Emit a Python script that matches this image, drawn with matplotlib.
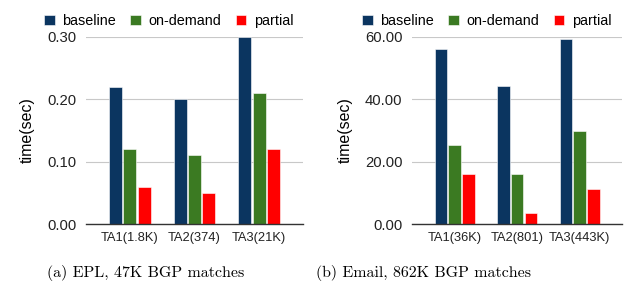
import matplotlib
matplotlib.use('Agg')
import matplotlib.pyplot as plt
import numpy as np

plt.rcParams['font.family'] = ['Liberation Sans', 'DejaVu Sans']

series = ['baseline', 'on-demand', 'partial']
colors = ['#0b3560', '#3b7a22', '#ff0000']

epl_labels = ['TA1(1.8K)', 'TA2(374)', 'TA3(21K)']
epl_baseline = [0.22, 0.20, 0.30]
epl_ondemand = [0.12, 0.11, 0.21]
epl_partial = [0.06, 0.05, 0.12]
epl_ticks = [0.0, 0.10, 0.20, 0.30]

email_labels = ['TA1(36K)', 'TA2(801)', 'TA3(443K)']
email_baseline = [56.0, 44.3, 59.4]
email_ondemand = [25.3, 15.9, 29.9]
email_partial = [16.1, 3.5, 11.3]
email_ticks = [0.0, 20.0, 40.0, 60.0]


def panel(fig, rect, labels, vals, ticks, caption, cap_x, leg_x):
    ax = fig.add_axes(rect)
    x = np.arange(len(labels))
    for i, (name, v, c) in enumerate(zip(series, vals, colors)):
        ax.bar(x + (i - 1) * 0.22, v, 0.2, color=c, edgecolor='white',
               linewidth=0.4, label=name, zorder=3)
    ax.set_xlim(-0.68, 2.68)
    ax.set_ylim(0, ticks[-1])
    ax.set_yticks(ticks)
    ax.set_yticklabels(['%.2f' % t for t in ticks], fontsize=10.7, color='#222222')
    ax.set_xticks(x)
    ax.set_xticklabels(labels, fontsize=9.3, color='#222222')
    ax.tick_params(length=0)
    ax.tick_params(axis='y', pad=7)
    ax.tick_params(axis='x', pad=6)
    ax.grid(axis='y', color='#c8c8c8', linewidth=0.8, zorder=0)
    for s in ['left', 'right', 'top']:
        ax.spines[s].set_visible(False)
    ax.spines['bottom'].set_color('#333333')
    ax.spines['bottom'].set_linewidth(1.0)
    ax.spines['bottom'].set_zorder(4)
    ax.set_ylabel('time(sec)', fontsize=11.5, labelpad=9)
    ax.legend(loc='lower left', bbox_to_anchor=(leg_x, 0.905), bbox_transform=fig.transFigure,
              ncol=3, frameon=False, fontsize=10.4, handlelength=0.75, handleheight=0.75,
              handletextpad=0.5, columnspacing=1.0, borderaxespad=0, borderpad=0)
    fig.text(cap_x, 0.07, caption, ha='center', va='center', fontsize=11.5,
             family=['cmr10', 'DejaVu Serif'])
    return ax


fig = plt.figure(figsize=(6.38, 2.94), dpi=100)
panel(fig, [86 / 638, 70 / 294, 217 / 638, 187 / 294], epl_labels,
      [epl_baseline, epl_ondemand, epl_partial], epl_ticks,
      '(a) EPL, 47K BGP matches', 146 / 638, 44 / 638)
panel(fig, [412 / 638, 70 / 294, 210 / 638, 187 / 294], email_labels,
      [email_baseline, email_ondemand, email_partial], email_ticks,
      '(b) Email, 862K BGP matches', 424 / 638, 362 / 638)
fig.savefig('out.png', dpi=100)
